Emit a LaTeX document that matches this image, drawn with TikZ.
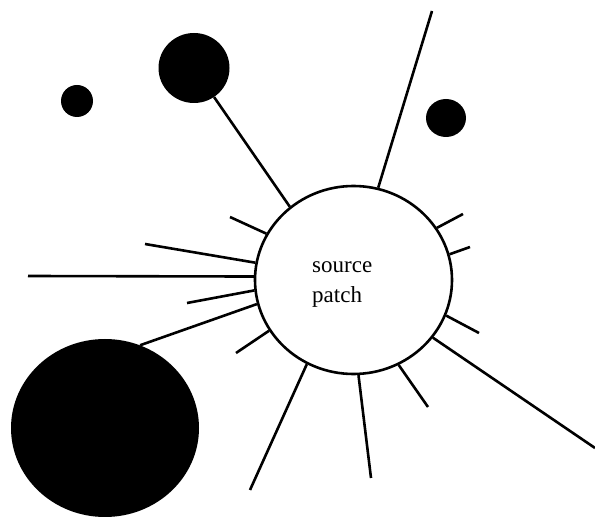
\documentclass[tikz,border=0pt]{standalone}
\usepackage{fontspec}
\setmainfont{Liberation Serif}
\usetikzlibrary{shapes.geometric}
\begin{document}
\begin{tikzpicture}[x=1pt,y=-1pt,
  spoke/.style={line width=2.6pt},
  blob/.style={ellipse,fill=black,draw=none,inner sep=0pt},
  patchbox/.style={ellipse,draw,line width=2.6pt,inner sep=0pt,minimum width=197pt,minimum height=188pt},
  lbl/.style={anchor=base west,inner sep=0pt,font=\fontsize{23}{30}\selectfont}]
\useasboundingbox (0,0) rectangle (595,518);
% main patch
\node[patchbox] (src) at (353.5,280) {};
\node[lbl] (t1) at (312,273) {source};
\node[lbl] (t2) at (312,303) {patch};
% blobs
\node[blob,minimum width=32pt,minimum height=32pt] (d1) at (77,101) {};
\node[blob,minimum width=71pt,minimum height=70pt] (d2) at (194,68) {};
\node[blob,minimum width=40pt,minimum height=38pt] (d3) at (446,118) {};
\node[blob,minimum width=188pt,minimum height=178pt] (d4) at (105,428) {};
% free ends
\coordinate (e1) at (432,11);
\coordinate (e2) at (230,217);
\coordinate (e3) at (145,244);
\coordinate (e4) at (28,276);
\coordinate (e5) at (187,303);
\coordinate (e6) at (236,353);
\coordinate (e7) at (250,490);
\coordinate (e8) at (371,478);
\coordinate (e9) at (428,407);
\coordinate (e10) at (595,448);
\coordinate (e11) at (479,333);
\coordinate (e12) at (470,247);
\coordinate (e13) at (463,214);
% spokes
\draw[spoke] (d2) -- (src.131.6);
\draw[spoke] (e1) -- (src.75.2);
\draw[spoke] (e2) -- (src.152.6);
\draw[spoke] (e3) -- (src.170.2);
\draw[spoke] (e4) -- (src.178.3);
\draw[spoke] (e5) -- (src.186.7);
\draw[spoke] (d4.67) -- (src.194.9);
\draw[spoke] (e6) -- (src.211.3);
\draw[spoke] (e7) -- (src.241.2);
\draw[spoke] (e8) -- (src.273.1);
\draw[spoke] (e9) -- (src.298.3);
\draw[spoke] (e10) -- (src.324.3);
\draw[spoke] (e11) -- (src.339.1);
\draw[spoke] (e12) -- (src.15.4);
\draw[spoke] (e13) -- (src.32.2);
\end{tikzpicture}
\end{document}
